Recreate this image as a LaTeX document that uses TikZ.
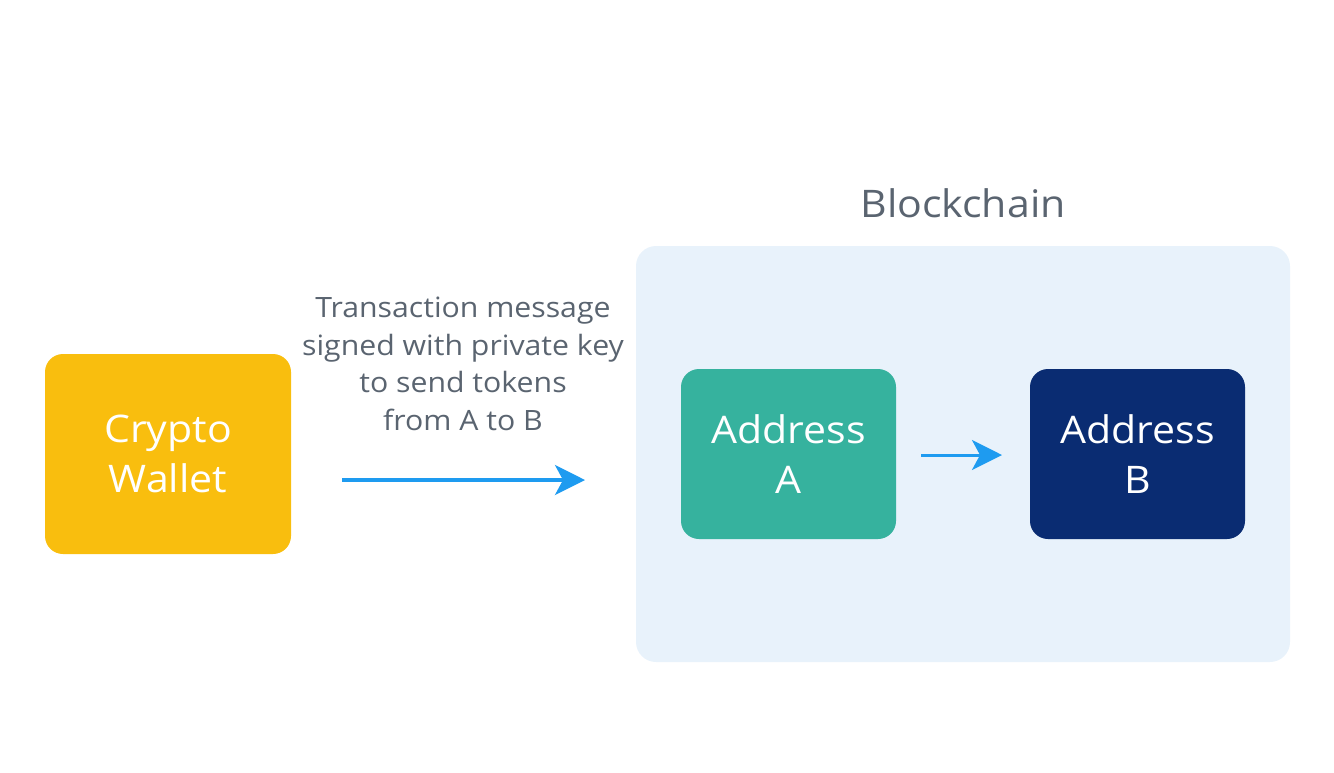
\documentclass[tikz,border=0pt]{standalone}
\usepackage{fontspec}
\setmainfont{Open Sans}[FakeStretch=1.08]
\usetikzlibrary{arrows.meta}
\definecolor{wal}{HTML}{F9BE0E}
\definecolor{bc}{HTML}{E8F2FB}
\definecolor{ta}{HTML}{36B29E}
\definecolor{nb}{HTML}{0A2C72}
\definecolor{ar}{HTML}{1E9BF0}
\definecolor{gt}{HTML}{5A6470}
\begin{document}
\begin{tikzpicture}[x=1pt,y=-1pt,
 box/.style={rounded corners=18pt,text=white,align=center,font=\fontsize{38}{50}\selectfont,inner sep=0pt},
 arr/.style={draw=ar,line width=3.5pt,-{Stealth[length=30pt,width=30pt,inset=8pt]}}]
\useasboundingbox (0,0) rectangle (1334,772);
\fill[bc,rounded corners=20pt] (636,246) rectangle (1290,662);
\node[box,fill=wal,minimum width=246pt,minimum height=200pt] (w) at (168,454) {Crypto\\Wallet};
\node[box,fill=ta,minimum width=215pt,minimum height=170pt] (a) at (788.5,454) {Address\\A};
\node[box,fill=nb,minimum width=215pt,minimum height=170pt] (b) at (1137.5,454) {Address\\B};
\node[text=gt,font=\fontsize{38}{40}\selectfont] (t) at (963,203) {Blockchain};
\node[text=gt,align=center,font=\fontsize{28}{37.5}\selectfont] (l) at (463,364) {Transaction message\\signed with private key\\to send tokens\\from A to B};
\coordinate (p1) at (342,480); \coordinate (p2) at (585,480);
\draw[arr] (p1) -- (p2);
\coordinate (q1) at (921,455); \coordinate (q2) at (1002,455);
\draw[arr,line width=3pt] (q1) -- (q2);
\end{tikzpicture}
\end{document}
